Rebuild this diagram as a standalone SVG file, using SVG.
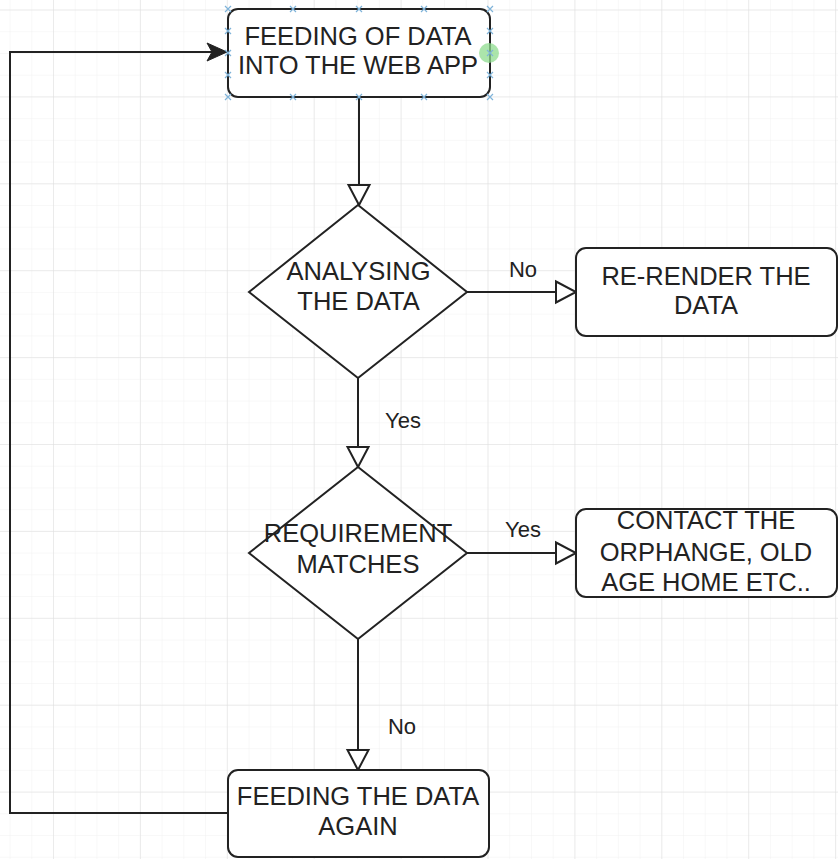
<svg xmlns="http://www.w3.org/2000/svg" width="838" height="859" viewBox="0 0 838 859">
<style>
.box{fill:#fff;stroke:#222;stroke-width:2}
.t{font-family:"Liberation Sans",Arial,sans-serif;font-size:25.5px;fill:#222;text-anchor:middle}
.lbl{font-family:"Liberation Sans",Arial,sans-serif;font-size:22px;fill:#222;text-anchor:middle}
.edge{fill:none;stroke:#222;stroke-width:2}
.open{marker-end:url(#openArrow)}
.h{stroke:#7fb3d9;stroke-width:1.2}
</style>
<defs>
<pattern id="minor" width="21.725" height="21.725" patternUnits="userSpaceOnUse" x="53" y="9.5">
<path d="M0,0 H21.725 M0,0 V21.725" fill="none" stroke="#f1f1f1" stroke-width="1"/>
</pattern>
<pattern id="major" width="86.9" height="86.9" patternUnits="userSpaceOnUse" x="53" y="9.5">
<path d="M0,0 H86.9 M0,0 V86.9" fill="none" stroke="#dedede" stroke-width="1"/>
</pattern>
<marker id="openArrow" markerUnits="userSpaceOnUse" markerWidth="24" markerHeight="25" refX="20" refY="10.5" orient="auto" overflow="visible">
<path d="M0,0 L20,10.5 L0,21 Z" fill="#fff" stroke="#222" stroke-width="2"/>
</marker>
<marker id="filledArrow" markerUnits="userSpaceOnUse" markerWidth="24" markerHeight="20" refX="20" refY="9" orient="auto" overflow="visible">
<path d="M0,0 L20,9 L0,18 L5,9 Z" fill="#222" stroke="#222" stroke-width="1"/>
</marker>
</defs>
<rect width="838" height="859" fill="#fff"/>
<rect width="838" height="859" fill="url(#minor)"/>
<rect width="838" height="859" fill="url(#major)"/>

<g id="connectors">
<path class="edge" d="M228,813 H10 V52 H227" marker-end="url(#filledArrow)"/>
<path class="edge open" d="M359,97 V205"/>
<path class="edge open" d="M467,292 H576"/>
<path class="edge open" d="M358,378 V467"/>
<path class="edge open" d="M467,553 H576"/>
<path class="edge open" d="M358,639 V770"/>
<text class="lbl" x="523" y="277">No</text>
<text class="lbl" x="403" y="428">Yes</text>
<text class="lbl" x="523" y="537">Yes</text>
<text class="lbl" x="402" y="734">No</text>
</g>

<g id="node-feeding">
<rect class="box" x="228" y="9" width="262" height="88" rx="10"/>
<text class="t" x="358" y="45">FEEDING OF DATA</text>
<text class="t" x="358" y="74">INTO THE WEB APP</text>
</g>

<g id="node-analysing">
<polygon class="box" points="358,205 467,292 358,378 249,292"/>
<text class="t" x="358.5" y="280">ANALYSING</text>
<text class="t" x="358.5" y="310">THE DATA</text>
</g>

<g id="node-rerender">
<rect class="box" x="576" y="248" width="261" height="88" rx="10"/>
<text class="t" x="706" y="285">RE-RENDER THE</text>
<text class="t" x="706" y="314">DATA</text>
</g>

<g id="node-requirement">
<polygon class="box" points="358,467 467,553 358,639 249,553"/>
<text class="t" x="358" y="542">REQUIREMENT</text>
<text class="t" x="358" y="573">MATCHES</text>
</g>

<g id="node-contact">
<rect class="box" x="576" y="509" width="261" height="88" rx="10"/>
<text class="t" x="706" y="529">CONTACT THE</text>
<text class="t" x="706" y="561">ORPHANGE, OLD</text>
<text class="t" x="706" y="591">AGE HOME ETC..</text>
</g>

<g id="node-again">
<rect class="box" x="228" y="770" width="261" height="87" rx="10"/>
<text class="t" x="358" y="805">FEEDING THE DATA</text>
<text class="t" x="358" y="835">AGAIN</text>
</g>

<g id="selection-handles">
<circle cx="489" cy="53" r="10" fill="#8fdc8f" opacity="0.75"/>
<path class="h" d="M225,6 l6,6 m0,-6 l-6,6 M290,6 l6,6 m0,-6 l-6,6 M356,6 l6,6 m0,-6 l-6,6 M421,6 l6,6 m0,-6 l-6,6 M487,6 l6,6 m0,-6 l-6,6
M225,94 l6,6 m0,-6 l-6,6 M290,94 l6,6 m0,-6 l-6,6 M356,94 l6,6 m0,-6 l-6,6 M421,94 l6,6 m0,-6 l-6,6 M487,94 l6,6 m0,-6 l-6,6
M225,28 l6,6 m0,-6 l-6,6 M225,50 l6,6 m0,-6 l-6,6 M225,72 l6,6 m0,-6 l-6,6
M487,28 l6,6 m0,-6 l-6,6 M487,50 l6,6 m0,-6 l-6,6 M487,72 l6,6 m0,-6 l-6,6"/>
</g>
</svg>
